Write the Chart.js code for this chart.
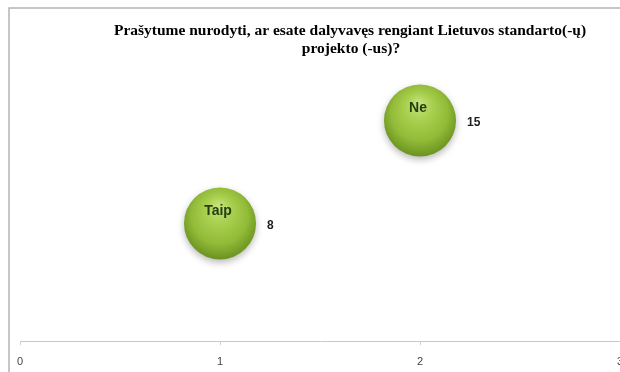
<!DOCTYPE html>
<html>
<head>
<meta charset="utf-8">
<script src="https://cdn.jsdelivr.net/npm/chart.js@4"></script>
<style>
  html, body { margin: 0; padding: 0; background: #fff; overflow: hidden; }
  #wrap { position: relative; width: 672px; height: 377px; margin-left: -16px; }
</style>
</head>
<body>
<div id="wrap"><canvas id="myChart"></canvas></div>
<script>
// answers and counts
var categories = ["Taip", "Ne"];
var xValues = [1, 2];
var counts = [8, 15];
var titleLines = ["Prašytume nurodyti, ar esate dalyvavęs rengiant Lietuvos standarto(-ų)", "projekto (-us)?"];

// canvas is shifted left by this much inside the page
var shift = 16;

var points = categories.map(function(c, i){
  return { x: xValues[i], y: counts[i] };
});

var bubbleFill = function(context){
  var chart = context.chart;
  var raw = context.raw;
  if(!raw || !chart.chartArea || !chart.scales.x || !chart.scales.y) return "#8db83a";
  var cx = chart.scales.x.getPixelForValue(raw.x);
  var cy = chart.scales.y.getPixelForValue(raw.y);
  if(!isFinite(cx) || !isFinite(cy)) return "#8db83a";
  var r = 36;
  var g = chart.ctx.createRadialGradient(cx - r*0.05, cy - r*0.5, 0, cx, cy - r*0.1, r*1.12);
  g.addColorStop(0, "#c8e37e");
  g.addColorStop(0.35, "#a8cf4e");
  g.addColorStop(0.7, "#92bb38");
  g.addColorStop(0.88, "#79a229");
  g.addColorStop(1, "#6a9020");
  return g;
};

var frame = {
  id: "frame",
  beforeDraw: function(chart){
    var c = chart.ctx;
    c.save();
    c.fillStyle = "#fff";
    c.fillRect(0, 0, chart.width, chart.height);
    c.strokeStyle = "#b4b4b4";
    c.lineWidth = 1.5;
    c.beginPath();
    c.moveTo(9 + shift, chart.height);
    c.lineTo(9 + shift, 8);
    c.lineTo(chart.width, 8);
    c.stroke();
    c.restore();
  },
  beforeDatasetsDraw: function(chart){
    chart.ctx.save();
    chart.ctx.shadowColor = "rgba(0,0,0,0.28)";
    chart.ctx.shadowBlur = 7;
    chart.ctx.shadowOffsetY = 3;
  },
  afterDatasetsDraw: function(chart){
    chart.ctx.restore();
  },
  afterDraw: function(chart){
    var c = chart.ctx;
    c.save();
    // title
    c.fillStyle = "#000";
    c.font = "bold 15.5px 'Liberation Serif'";
    c.textAlign = "center";
    c.textBaseline = "middle";
    c.fillText(titleLines[0], 350 + shift, 31);
    c.fillText(titleLines[1], 351 + shift, 49);
    // labels
    var meta = chart.getDatasetMeta(0);
    meta.data.forEach(function(el, i){
      var r = el.options.radius;
      c.textAlign = "center";
      c.fillStyle = "#234010";
      c.font = "bold 14px 'Liberation Sans'";
      c.fillText(categories[i], el.x - 2, el.y - 12);
      c.textAlign = "left";
      c.fillStyle = "#222";
      c.font = "bold 12px 'Liberation Sans'";
      c.fillText(counts[i], el.x + r + 11, el.y + 2);
    });
    c.restore();
  }
};

var ctx = document.getElementById("myChart");
var chart = new Chart(ctx, {
  type: "bubble",
  data: {
    datasets: [{
      label: "Atsakymai",
      data: points,
      radius: 36,
      backgroundColor: bubbleFill,
      borderWidth: 0
    }]
  },
  options: {
    responsive: true,
    maintainAspectRatio: false,
    animation: false,
    events: [],
    layout: { padding: { top: 47, left: 20, right: 20, bottom: 0 } },
    plugins: {
      legend: { display: false },
      tooltip: { enabled: false }
    },
    scales: {
      x: {
        type: "linear",
        min: 0,
        max: 3,
        afterFit: function(scale){ scale.height = 30; },
        grid: { display: true, drawOnChartArea: false, drawTicks: true, tickLength: 4, color: "#d0d0d0" },
        border: { display: true, color: "#c8c8c8", width: 1 },
        ticks: { stepSize: 1, padding: 10, color: "#444", font: { family: "'Liberation Sans'", size: 11 } }
      },
      y: {
        display: false,
        min: 0,
        max: 20
      }
    }
  },
  plugins: [frame]
});
</script>
</body>
</html>
